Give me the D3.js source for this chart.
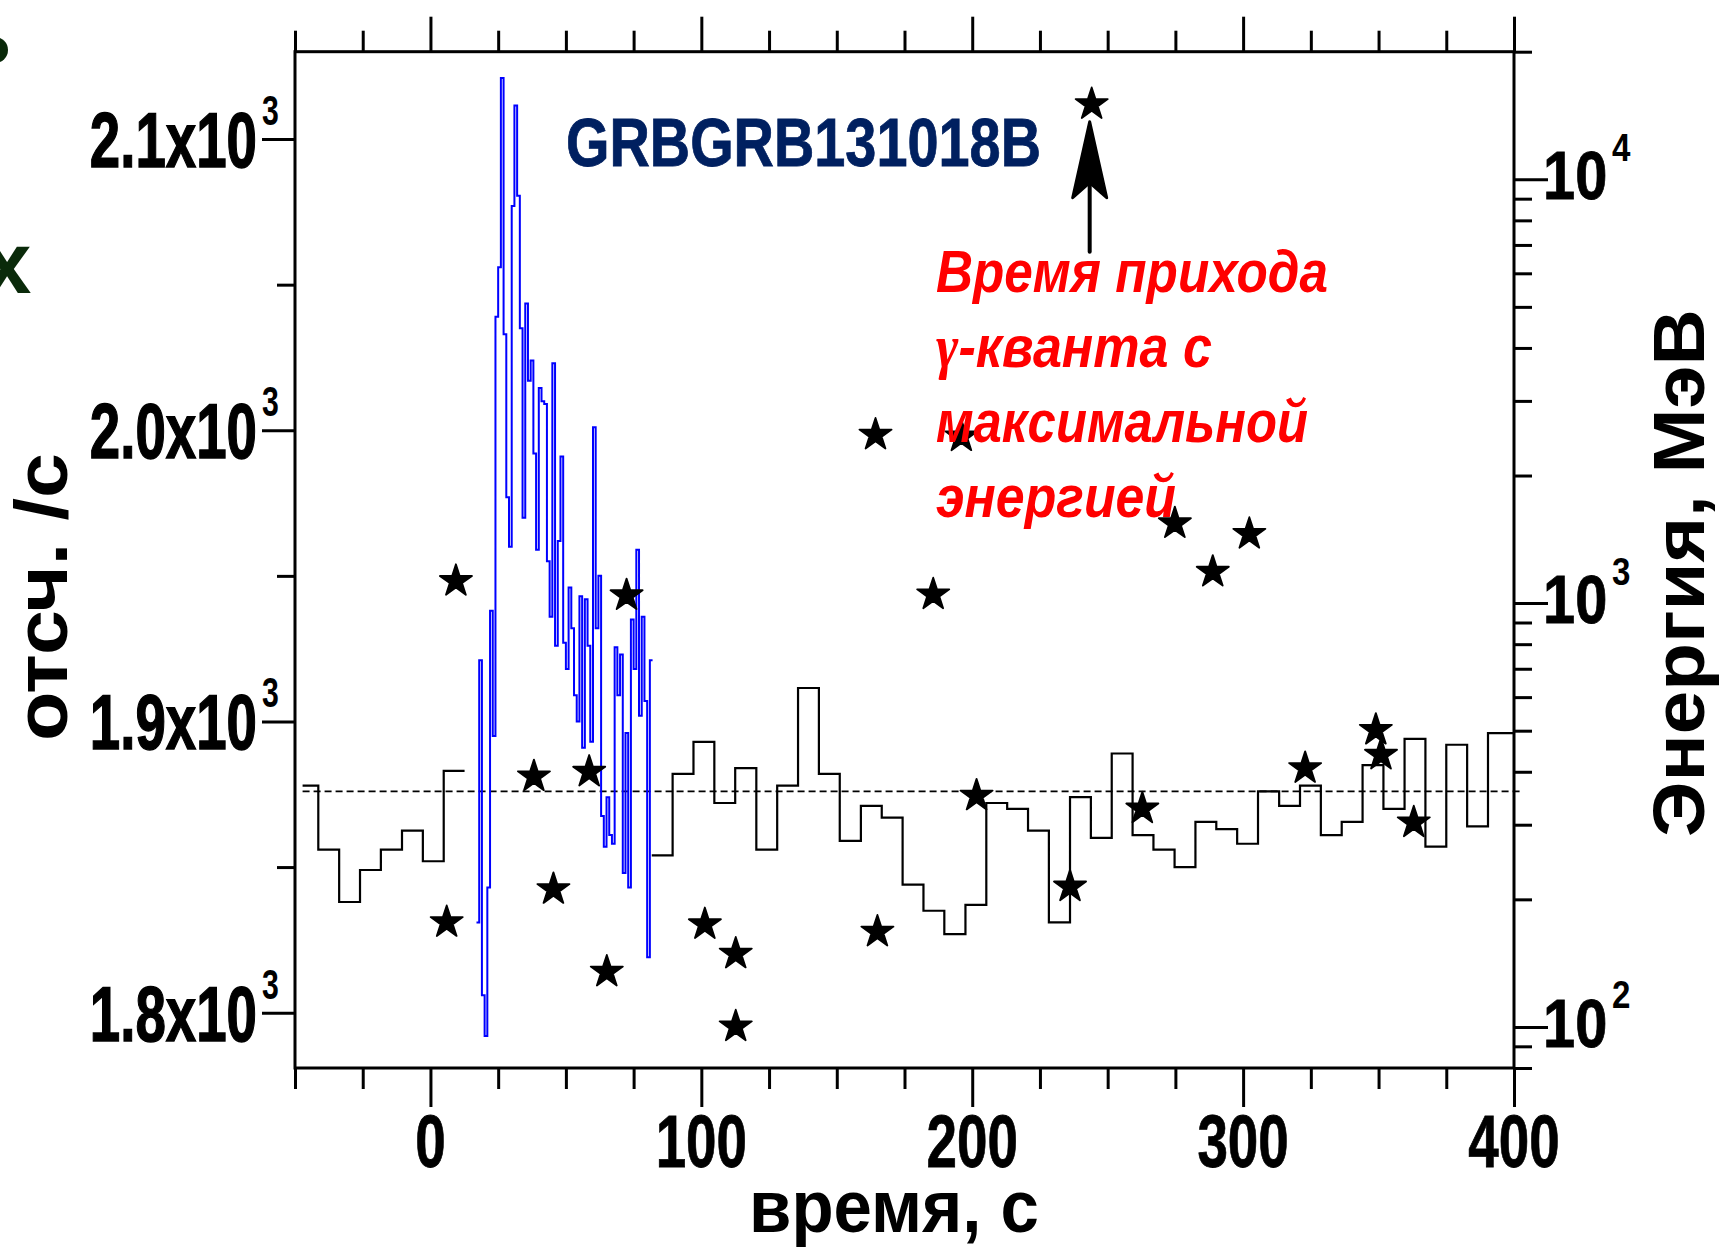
<!DOCTYPE html>
<html>
<head>
<meta charset="utf-8">
<script src="https://cdn.jsdelivr.net/npm/d3@7"></script>
<style>
  html, body { margin: 0; padding: 0; background: #fff; }
  svg { display: block; }
</style>
</head>
<body>
<svg id="chart" width="1721" height="1250"></svg>
<script>
// ---- axes -------------------------------------------------------------
const timeDomain = [-50, 400];          // s
const countDomain = [1781, 2130];       // counts / s
const energyDomain = [80, 20000];       // MeV (log)

const timeTicksMajor = [0, 100, 200, 300, 400];
const timeTicksMinor = [-50, -25, 25, 50, 75, 125, 150, 175, 225, 250, 275, 325, 350, 375];
const countTicksMajor = [1800, 1900, 2000, 2100];
const countTickLabels = ["1.8x10", "1.9x10", "2.0x10", "2.1x10"];
const countTicksMinor = [1850, 1950, 2050];
const energyTicksMajor = [100, 1000, 10000];
const energyTickExponents = ["2", "3", "4"];
const energyTicksMinor = [80, 90, 200, 300, 400, 500, 600, 700, 800, 900,
  2000, 3000, 4000, 5000, 6000, 7000, 8000, 9000, 20000];

// ---- background count rate (black histogram), bin start times ---------
const bgTimesBefore = [-47.2, -41.4, -33.7, -26.0, -18.3, -10.5, -2.8, 4.9];
const bgCountsBefore = [1878, 1856, 1838, 1849, 1856, 1862.5, 1852, 1883];
const bgEndBefore = 12.6;

const bgTimesAfter = [81.7, 89.4, 97.1, 104.8, 112.5, 120.3, 128.0, 135.7, 143.4, 151.1,
  158.9, 166.6, 174.3, 182.0, 189.7, 197.5, 205.2, 212.9, 220.6, 228.3,
  236.1, 243.8, 251.5, 259.2, 266.9, 274.7, 282.4, 290.1, 297.8, 305.5,
  313.3, 321.0, 328.7, 336.4, 344.1, 351.8, 359.6, 367.3, 375.0, 382.7, 390.4];
const bgCountsAfter = [1854, 1882, 1893, 1872, 1884, 1856, 1878, 1911.5, 1882, 1859,
  1871, 1867, 1844, 1835, 1827, 1837, 1872, 1870, 1862.5, 1831,
  1874, 1860, 1889, 1861, 1856, 1850, 1865.5, 1863, 1858, 1876,
  1871, 1878, 1861, 1865.5, 1885, 1870, 1894, 1857, 1892, 1864, 1896];
const bgEndAfter = 400;

const meanLevel = 1876;               // dashed mean background
const meanSpan = [-47.2, 403];

// ---- burst count rate (blue histogram), 1 s bins ------------------------
const burstStart = 17;
const burstBin = 1;
const burstCounts = [1831, 1921, 1806, 1792, 1843, 1938, 1895, 2039, 2056, 2121,
  2033, 1977, 1960, 2077, 2111.5, 2080.5, 2035, 1970, 2043.5, 2017,
  2024, 1992, 1959, 2014.5, 2010, 2009, 1955, 1936, 2023, 1926,
  1962, 1991, 1927, 1918, 1946, 1932, 1909, 1900, 1943, 1891,
  1942, 1926, 1893, 2001, 1932, 1950, 1867.5, 1857, 1874, 1861,
  1858, 1925.5, 1909, 1923, 1848, 1896, 1843, 1935, 1918, 1959,
  1902, 1936, 1907, 1819, 1921];

// ---- photon arrival times and energies (stars) --------------------------
const photonTimes = [6, 9.4, 38.2, 45.4, 58.6, 65.1, 72.4, 101.3, 112.7, 112.7,
  164.3, 165, 185.6, 196, 201.6, 236.1, 244.1, 262.8, 274.8, 288.8,
  302.3, 322.9, 349, 350.9, 363];
const photonEnergies = [178, 1136, 393, 213, 403, 136, 1051, 176, 150, 101,
  2515, 169, 1056, 2492, 354, 216, 15150, 330, 1554, 1194,
  1467, 411, 506, 442, 306];

// arrow under the highest-energy photon (MeV range of the shaft)
const arrowEnergyFrom = 6745;
const arrowEnergyTo = 13670;

const titleText = "GRBGRB131018B";
const noteLines = ["Время прихода", "-кванта с", "максимальной", "энергией"];
const xTitle = "время, с";
const yLeftTitle = "отсч. /с";
const yRightTitle = "Энергия, МэВ";

// ---- drawing ----------------------------------------------------------
const FONT = "'Liberation Sans', Arial, Helvetica, sans-serif";
const svg = d3.select("#chart");
const plot = { left: 295, right: 1514, top: 51.7, bottom: 1068 };

const x = d3.scaleLinear().domain(timeDomain).range([plot.left, plot.right]);
const yCounts = d3.scaleLinear().domain(countDomain).range([plot.bottom, plot.top]);
const yEnergy = d3.scaleLog().domain(energyDomain).range([plot.bottom, plot.top]);

// squeeze text horizontally to the condensed face of the figure
function condense(sel, factor) {
  sel.each(function () {
    const n = this.getComputedTextLength();
    this.setAttribute("textLength", (n * factor).toFixed(1));
    this.setAttribute("lengthAdjust", "spacingAndGlyphs");
  });
  return sel;
}

const stepLine = d3.line()
  .curve(d3.curveStepAfter)
  .x(d => x(d[0]))
  .y(d => yCounts(d[1]));

function stepPoints(times, values, end) {
  const pts = times.map((t, i) => [t, values[i]]);
  pts.push([end, values[values.length - 1]]);
  return pts;
}

// partial letters at the left edge (cut off by the page border)
svg.append("circle").attr("cx", -5).attr("cy", 50).attr("r", 13).attr("fill", "#0a2a0a");
svg.append("text").attr("x", -17).attr("y", 293)
  .attr("font-family", FONT).attr("font-weight", "bold").attr("font-size", 87)
  .attr("fill", "#0a2a0a").text("х");

// mean background level
svg.append("line")
  .attr("x1", x(meanSpan[0])).attr("x2", x(meanSpan[1]))
  .attr("y1", yCounts(meanLevel)).attr("y2", yCounts(meanLevel))
  .attr("stroke", "#000").attr("stroke-width", 1.6)
  .attr("stroke-dasharray", "7,4");

// background histogram
const bgGroup = svg.append("g").attr("fill", "none").attr("stroke", "#000").attr("stroke-width", 2.2);
bgGroup.append("path").attr("d", stepLine(stepPoints(bgTimesBefore, bgCountsBefore, bgEndBefore)));
bgGroup.append("path").attr("d", stepLine(stepPoints(bgTimesAfter, bgCountsAfter, bgEndAfter)));

// burst histogram
const burstTimes = burstCounts.map((_, i) => burstStart + i * burstBin);
svg.append("path")
  .attr("d", stepLine(stepPoints(burstTimes, burstCounts, burstStart + burstCounts.length * burstBin)))
  .attr("fill", "none").attr("stroke", "#0000ff").attr("stroke-width", 2)
  .attr("stroke-linejoin", "miter");

// photons
const star = d3.symbol(d3.symbolStar).size(320);
svg.append("g").selectAll("path")
  .data(photonTimes.map((t, i) => [t, photonEnergies[i]]))
  .join("path")
  .attr("d", star)
  .attr("transform", d => `translate(${x(d[0])},${yEnergy(d[1]) + 1.5})`)
  .attr("fill", "#000").attr("stroke", "#000")
  .attr("stroke-width", 1.8).attr("stroke-linejoin", "round");

// arrow to the highest-energy photon
const maxIdx = d3.maxIndex(photonEnergies);
const ax = x(photonTimes[maxIdx]) - 2;
const tipY = yEnergy(arrowEnergyTo);
const tailY = yEnergy(arrowEnergyFrom);
svg.append("line").attr("x1", ax).attr("x2", ax).attr("y1", tailY).attr("y2", tipY + 40)
  .attr("stroke", "#000").attr("stroke-width", 4).attr("stroke-linecap", "round");
svg.append("path")
  .attr("d", `M${ax},${tipY} L${ax + 17},${tipY + 76} L${ax},${tipY + 61} L${ax - 17},${tipY + 76} Z`)
  .attr("fill", "#000").attr("stroke", "#000").attr("stroke-width", 3)
  .attr("stroke-linejoin", "round");

// ---- tick marks -------------------------------------------------------
function ticks(axisFn, scale, values, size, transform) {
  svg.append("g").attr("transform", transform)
    .call(axisFn(scale).tickValues(values).tickSize(size).tickFormat(() => ""))
    .call(g => g.select(".domain").remove())
    .call(g => g.selectAll(".tick text").remove())
    .call(g => g.selectAll(".tick line").attr("stroke", "#000").attr("stroke-width", 3));
}
ticks(d3.axisBottom, x, timeTicksMinor, 21, `translate(0,${plot.bottom})`);
ticks(d3.axisBottom, x, timeTicksMajor, 39, `translate(0,${plot.bottom})`);
ticks(d3.axisTop, x, timeTicksMinor, 21, `translate(0,${plot.top})`);
ticks(d3.axisTop, x, timeTicksMajor, 35, `translate(0,${plot.top})`);
ticks(d3.axisLeft, yCounts, countTicksMinor, 18, `translate(${plot.left},0)`);
ticks(d3.axisLeft, yCounts, countTicksMajor, 33, `translate(${plot.left},0)`);
ticks(d3.axisRight, yEnergy, energyTicksMinor, 18, `translate(${plot.right},0)`);
ticks(d3.axisRight, yEnergy, energyTicksMajor, 34, `translate(${plot.right},0)`);

// frame
svg.append("rect")
  .attr("x", plot.left).attr("y", plot.top)
  .attr("width", plot.right - plot.left).attr("height", plot.bottom - plot.top)
  .attr("fill", "none").attr("stroke", "#000").attr("stroke-width", 3);

// ---- tick labels ------------------------------------------------------
const bold = sel => sel.attr("font-family", FONT).attr("font-weight", "bold").attr("fill", "#000");

condense(bold(svg.append("g").selectAll("text").data(timeTicksMajor).join("text"))
  .attr("x", d => x(d)).attr("y", 1167)
  .attr("text-anchor", "middle").attr("font-size", 75)
  .attr("stroke", "#000").attr("stroke-width", 0.8)
  .text(d => d), 0.73);

condense(bold(svg.append("g").selectAll("text").data(countTicksMajor).join("text"))
  .attr("x", 257).attr("y", d => yCounts(d) + 28)
  .attr("text-anchor", "end").attr("font-size", 77)
  .attr("stroke", "#000").attr("stroke-width", 1.4)
  .text((d, i) => countTickLabels[i]), 0.71);
condense(bold(svg.append("g").selectAll("text").data(countTicksMajor).join("text"))
  .attr("x", 262).attr("y", d => yCounts(d) - 14)
  .attr("font-size", 42)
  .text("3"), 0.72);

condense(bold(svg.append("g").selectAll("text").data(energyTicksMajor).join("text"))
  .attr("x", 1543).attr("y", d => yEnergy(d) + 20)
  .attr("font-size", 68)
  .attr("stroke", "#000").attr("stroke-width", 0.8)
  .text("10"), 0.85);
condense(bold(svg.append("g").selectAll("text").data(energyTicksMajor).join("text"))
  .attr("x", 1612).attr("y", d => yEnergy(d) - 18.5)
  .attr("font-size", 39)
  .text((d, i) => energyTickExponents[i]), 0.85);

// ---- axis titles ------------------------------------------------------
bold(svg.append("text"))
  .attr("x", 894).attr("y", 1232).attr("text-anchor", "middle")
  .attr("font-size", 74).attr("textLength", 290).attr("lengthAdjust", "spacingAndGlyphs")
  .text(xTitle);

bold(svg.append("text"))
  .attr("transform", "translate(67,597) rotate(-90)")
  .attr("text-anchor", "middle")
  .attr("font-size", 74).attr("textLength", 288).attr("lengthAdjust", "spacingAndGlyphs")
  .text(yLeftTitle);

bold(svg.append("text"))
  .attr("transform", "translate(1704,573) rotate(-90)")
  .attr("text-anchor", "middle")
  .attr("font-size", 72).attr("textLength", 528).attr("lengthAdjust", "spacingAndGlyphs")
  .text(yRightTitle);

// ---- title and note ---------------------------------------------------
svg.append("text")
  .attr("x", 566).attr("y", 166)
  .attr("font-family", FONT).attr("font-weight", "bold").attr("font-size", 68)
  .attr("fill", "#002060").attr("stroke", "#002060").attr("stroke-width", 0.8)
  .attr("textLength", 475).attr("lengthAdjust", "spacingAndGlyphs")
  .text(titleText);

const noteBaselines = [292, 367, 442, 517];
const noteWidths = [392, 276, 372, 240];
const note = svg.append("g")
  .attr("font-family", FONT).attr("font-weight", "bold").attr("font-style", "italic")
  .attr("font-size", 60).attr("fill", "#ff0000");
noteLines.forEach((line, i) => {
  const t = note.append("text")
    .attr("x", 936).attr("y", noteBaselines[i])
    .attr("textLength", noteWidths[i]).attr("lengthAdjust", "spacingAndGlyphs");
  if (i === 1) {
    t.append("tspan")
      .attr("font-family", "'Liberation Serif', 'DejaVu Serif', serif")
      .attr("font-weight", "bold").attr("font-size", 62)
      .text("γ");
    t.append("tspan").text(line);
  } else {
    t.text(line);
  }
});
</script>
</body>
</html>
